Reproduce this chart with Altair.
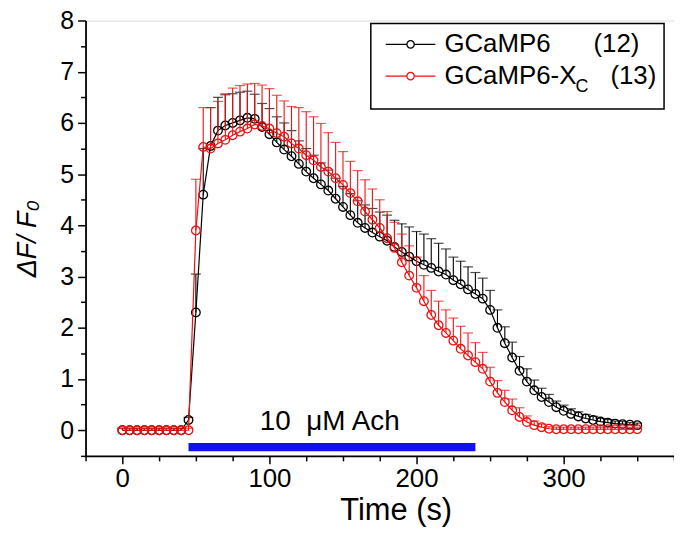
import altair as alt
import pandas as pd

# ---------------- data ----------------
time_s = [0, 5, 10, 15, 20, 25, 30, 35, 40, 45, 50, 55, 60, 65, 70, 75, 80, 85, 90, 95,
          100, 105, 110, 115, 120, 125, 130, 135, 140, 145, 150, 155, 160, 165, 170, 175,
          180, 185, 190, 195, 200, 205, 210, 215, 220, 225, 230, 235, 240, 245, 250, 255,
          260, 265, 270, 275, 280, 285, 290, 295, 300, 305, 310, 315, 320, 325, 330, 335,
          340, 345, 350]

gcamp6_mean = [0.0, 0.0, 0.0, 0.0, 0.0, 0.0, 0.0, 0.0, 0.0, 0.2, 2.3, 4.6, 5.55, 5.85, 5.95,
               6.0, 6.05, 6.1, 6.08, 5.92, 5.78, 5.62, 5.48, 5.35, 5.2, 5.05, 4.92, 4.8, 4.68,
               4.52, 4.36, 4.2, 4.05, 3.95, 3.86, 3.78, 3.7, 3.58, 3.48, 3.39, 3.3, 3.23, 3.17,
               3.1, 3.04, 2.93, 2.85, 2.75, 2.66, 2.57, 2.35, 2.0, 1.7, 1.42, 1.16, 0.95, 0.78,
               0.65, 0.55, 0.45, 0.38, 0.32, 0.27, 0.23, 0.2, 0.17, 0.15, 0.13, 0.12, 0.11, 0.1]
gcamp6_sem = [0.04, 0.04, 0.04, 0.04, 0.04, 0.04, 0.04, 0.04, 0.04, 0.05, 0.75, 0.9, 0.75, 0.65,
              0.6, 0.57, 0.55, 0.52, 0.48, 0.46, 0.5, 0.5, 0.52, 0.5, 0.45, 0.45, 0.45, 0.42,
              0.4, 0.4, 0.4, 0.42, 0.43, 0.45, 0.47, 0.48, 0.5, 0.52, 0.55, 0.58, 0.58, 0.6,
              0.57, 0.55, 0.5, 0.45, 0.45, 0.44, 0.42, 0.4, 0.38, 0.35, 0.32, 0.3, 0.28, 0.25,
              0.2, 0.17, 0.15, 0.12, 0.11, 0.1, 0.09, 0.08, 0.07, 0.06, 0.06, 0.05, 0.05, 0.04,
              0.04]

gcamp6xc_mean = [0.0, 0.0, 0.0, 0.0, 0.0, 0.0, 0.0, 0.0, 0.0, 0.0, 3.9, 5.53, 5.5, 5.6, 5.67,
                 5.76, 5.83, 5.89, 5.97, 5.94, 5.89, 5.8, 5.73, 5.6, 5.5, 5.37, 5.27, 5.14, 5.05,
                 4.92, 4.79, 4.63, 4.47, 4.27, 4.11, 3.95, 3.75, 3.56, 3.28, 3.02, 2.78, 2.52,
                 2.25, 2.05, 1.9, 1.75, 1.59, 1.46, 1.33, 1.2, 0.95, 0.73, 0.55, 0.39, 0.26, 0.16,
                 0.1, 0.06, 0.03, 0.02, 0.02, 0.02, 0.02, 0.02, 0.02, 0.02, 0.02, 0.02, 0.02,
                 0.02, 0.02]
gcamp6xc_sem = [0.04, 0.04, 0.04, 0.04, 0.04, 0.04, 0.04, 0.04, 0.04, 0.04, 1.0, 0.77, 0.8, 0.82,
                0.9, 0.92, 0.9, 0.87, 0.8, 0.8, 0.78, 0.74, 0.7, 0.72, 0.8, 0.85, 0.85, 0.85,
                0.76, 0.7, 0.65, 0.62, 0.6, 0.62, 0.6, 0.55, 0.52, 0.5, 0.55, 0.58, 0.6, 0.5,
                0.48, 0.47, 0.45, 0.44, 0.44, 0.44, 0.38, 0.32, 0.28, 0.24, 0.23, 0.22, 0.18,
                0.12, 0.08, 0.06, 0.04, 0.04, 0.04, 0.04, 0.04, 0.04, 0.04, 0.04, 0.04, 0.04,
                0.04, 0.04, 0.04]

series_names = ["GCaMP6", "GCaMP6-X"]
series_counts = ["(12)", "(13)"]
subscript = "C"
stim_start = [45]
stim_end = [240]
stim_text = "10\u00a0 \u03bcM Ach"
stim_text_pos = [141]
stim_text_level = [0.17]

x_ticks = [-25, 0, 25, 50, 75, 100, 125, 150, 175, 200, 225, 250, 275, 300, 325, 350, 375]
y_ticks = [-0.5, 0, 0.5, 1, 1.5, 2, 2.5, 3, 3.5, 4, 4.5, 5, 5.5, 6, 6.5, 7, 7.5, 8]

# ---------------- styles ----------------
BLACK = "#000000"
RED = "#f01010"
BLUE = "#1010f0"
FONT = "Liberation Sans"


def frame(mean, sem):
    return pd.DataFrame({
        "t": time_s,
        "v": mean,
        "up": [m + s for m, s in zip(mean, sem)],
    })


df_black = frame(gcamp6_mean, gcamp6_sem)
df_red = frame(gcamp6xc_mean, gcamp6xc_sem)

x_scale = alt.Scale(domain=[-25, 375], nice=False, zero=False)
y_scale = alt.Scale(domain=[-0.5, 8], nice=False, zero=False)

x_axis = alt.Axis(
    values=x_ticks,
    labelExpr="datum.value % 100 === 0 ? format(datum.value, 'd') : ''",
    tickSize={"condition": {"test": "datum.value % 100 !== 0", "value": 5}, "value": 8},
    title="Time (s)",
    titleFontSize=31, titleFontWeight="normal", titleColor=BLACK,
    titlePadding=4, titleX=312,
    labelFontSize=26, labelColor=BLACK, labelPadding=2, labelFlush=False,
    labelOverlap=False,
    domainColor=BLACK, domainWidth=1.8, tickColor=BLACK, tickWidth=1.5,
    grid=False,
)
y_axis = alt.Axis(
    values=y_ticks,
    labelExpr="datum.value % 1 === 0 && datum.value >= 0 ? format(datum.value, 'd') : ''",
    tickSize={"condition": {"test": "datum.value % 1 !== 0", "value": 5}, "value": 8},
    title="\u0394F/ F\u2080",
    titleFontSize=27, titleFontWeight="normal", titleFontStyle="italic", titleColor=BLACK,
    titlePadding=18,
    labelFontSize=25, labelColor=BLACK, labelPadding=4, labelFlush=False,
    labelOverlap=False,
    domainColor=BLACK, domainWidth=1.8, tickColor=BLACK, tickWidth=1.5,
    grid=False,
)

X = alt.X("t:Q", scale=x_scale, axis=x_axis)
Y = alt.Y("v:Q", scale=y_scale, axis=y_axis)


def series_layers(df, color):
    stems = alt.Chart(df).mark_rule(color=color, strokeWidth=1.1).encode(
        x=X, y=Y, y2="up:Q")
    caps = alt.Chart(df).mark_tick(color=color, orient="horizontal", size=10, thickness=1.2).encode(
        x=X, y=alt.Y("up:Q", scale=y_scale, axis=y_axis))
    line = alt.Chart(df).mark_line(color=color, strokeWidth=1.2).encode(x=X, y=Y)
    pts = alt.Chart(df).mark_point(shape="circle", filled=False, color=color, size=75,
                                   strokeWidth=1.3, opacity=1).encode(x=X, y=Y)
    return [stems, caps, line, pts]


# stimulus bar and label
stim_df = pd.DataFrame({"t": stim_start, "t2": stim_end})
stim_bar = alt.Chart(stim_df).mark_rect(color=BLUE).encode(
    x=X, x2="t2:Q",
    y=alt.datum(-0.25, scale=y_scale, axis=y_axis),
    y2=alt.datum(-0.41),
)
stim_txt_df = pd.DataFrame({"t": stim_text_pos, "v": stim_text_level, "label": [stim_text]})
stim_txt = alt.Chart(stim_txt_df).mark_text(
    font=FONT, fontSize=28, color=BLACK, align="center", baseline="middle"
).encode(x=X, y=Y, text="label:N")

# legend (drawn as annotation marks)
one = alt.Data(values=[{}])
leg_box = alt.Chart(one).mark_rect(fill="white", stroke=BLACK, strokeWidth=1.5).encode(
    x=alt.value(287), x2=alt.value(582), y=alt.value(3), y2=alt.value(89))


def leg_row(ypix, color):
    ln = alt.Chart(one).mark_rule(color=color, strokeWidth=1.2).encode(
        x=alt.value(302), x2=alt.value(352), y=alt.value(ypix))
    pt = alt.Chart(one).mark_point(shape="circle", filled=False, color=color, size=55,
                                   strokeWidth=1.3, fill="white", opacity=1).encode(
        x=alt.value(327), y=alt.value(ypix))
    return [ln, pt]


def leg_text(txt, xpix, ypix, size=26):
    return alt.Chart(one).mark_text(font=FONT, fontSize=size, color=BLACK, align="left",
                                    baseline="middle").encode(
        x=alt.value(xpix), y=alt.value(ypix), text=alt.value(txt))


legend_layers = [leg_box] + leg_row(24, BLACK) + leg_row(56, RED) + [
    leg_text(series_names[0], 361, 24),
    leg_text(series_counts[0], 511, 24),
    leg_text(series_names[1], 361, 56),
    leg_text(subscript, 493, 67, 18),
    leg_text(series_counts[1], 528, 56),
]

chart = alt.layer(
    *series_layers(df_black, BLACK),
    *series_layers(df_red, RED),
    stim_bar, stim_txt,
    *legend_layers,
).properties(
    width=592, height=438,
    autosize=alt.AutoSizeParams(type="none"),
    padding={"left": 78, "top": 11, "right": 0, "bottom": 73},
).configure_view(stroke=None).configure(font=FONT)

chart.save("out.html", embed_options={"renderer": "svg", "actions": False})
